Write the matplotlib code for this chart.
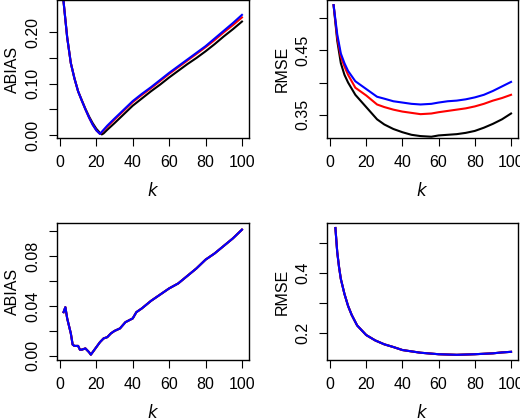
import matplotlib
matplotlib.use('Agg')
import matplotlib.pyplot as plt
import numpy as np

plt.rcParams['font.family'] = ['Liberation Sans', 'DejaVu Sans']

# top-left ABIAS
k_tl = [2, 4, 6, 8, 10, 12, 14, 16, 18, 20, 22, 23, 24, 26, 30, 35, 40, 45, 50, 55, 60, 65, 70, 75, 80, 85, 90, 95, 100]
abias_black = [0.26, 0.19, 0.14, 0.11, 0.085, 0.068, 0.051, 0.036, 0.023, 0.012, 0.004, 0.001, 0.003, 0.010, 0.023, 0.040, 0.057, 0.071, 0.085, 0.098, 0.112, 0.125, 0.138, 0.150, 0.163, 0.177, 0.192, 0.206, 0.221]
abias_red = [0.26, 0.19, 0.14, 0.11, 0.085, 0.067, 0.050, 0.034, 0.020, 0.009, 0.002, 0.005, 0.009, 0.016, 0.030, 0.047, 0.064, 0.078, 0.091, 0.105, 0.119, 0.132, 0.145, 0.158, 0.171, 0.185, 0.200, 0.214, 0.229]
abias_blue = [0.26, 0.19, 0.14, 0.11, 0.085, 0.067, 0.050, 0.034, 0.020, 0.009, 0.002, 0.006, 0.010, 0.018, 0.032, 0.049, 0.066, 0.080, 0.093, 0.107, 0.121, 0.134, 0.147, 0.160, 0.173, 0.188, 0.203, 0.218, 0.234]

# top-right RMSE
k_tr = [2, 4, 6, 8, 10, 14, 20, 26, 30, 35, 40, 45, 50, 56, 60, 65, 70, 75, 80, 85, 90, 95, 100]
rmse_black = [0.52, 0.465, 0.43, 0.412, 0.400, 0.381, 0.362, 0.343, 0.335, 0.328, 0.323, 0.319, 0.317, 0.316, 0.318, 0.319, 0.320, 0.322, 0.325, 0.330, 0.336, 0.343, 0.352]
rmse_red = [0.52, 0.47, 0.44, 0.425, 0.412, 0.392, 0.380, 0.366, 0.362, 0.358, 0.355, 0.353, 0.351, 0.352, 0.354, 0.356, 0.358, 0.360, 0.363, 0.367, 0.372, 0.376, 0.381]
rmse_blue = [0.52, 0.475, 0.445, 0.43, 0.418, 0.402, 0.390, 0.378, 0.375, 0.371, 0.369, 0.367, 0.366, 0.367, 0.369, 0.371, 0.372, 0.374, 0.377, 0.381, 0.387, 0.394, 0.401]

# bottom-left ABIAS
k_bl = [2, 3, 4, 6, 7, 8, 10, 11, 12, 14, 16, 17, 18, 20, 22, 24, 26, 28, 30, 33, 36, 40, 42, 45, 50, 55, 60, 65, 70, 75, 80, 85, 90, 95, 100]
abias2 = [0.035, 0.039, 0.030, 0.018, 0.009, 0.008, 0.008, 0.005, 0.005, 0.006, 0.003, 0.001, 0.003, 0.007, 0.011, 0.014, 0.015, 0.018, 0.020, 0.022, 0.027, 0.030, 0.035, 0.038, 0.044, 0.049, 0.054, 0.058, 0.064, 0.070, 0.077, 0.082, 0.088, 0.094, 0.101]

# bottom-right RMSE
k_br = [3, 4, 5, 6, 8, 10, 12, 15, 20, 25, 30, 35, 40, 50, 60, 70, 80, 90, 95, 100]
rmse2 = [0.55, 0.47, 0.42, 0.38, 0.33, 0.29, 0.26, 0.225, 0.193, 0.175, 0.162, 0.153, 0.143, 0.134, 0.129, 0.127, 0.129, 0.132, 0.135, 0.137]

fig = plt.figure(figsize=(5.2, 4.19), dpi=100)
ax1 = fig.add_axes([0.1096, 0.6706, 0.369, 0.3294])
ax2 = fig.add_axes([0.629, 0.6706, 0.367, 0.3294])
ax3 = fig.add_axes([0.1096, 0.141, 0.369, 0.327])
ax4 = fig.add_axes([0.629, 0.141, 0.367, 0.327])

def style(ax, ylabel, ylim, yticks, ylabels):
    ax.set_xlim(-1.6, 103.8)
    ax.set_ylim(*ylim)
    ax.set_xticks([0, 20, 40, 60, 80, 100])
    ax.set_yticks(yticks)
    ax.set_yticklabels(ylabels, rotation=90, va='center')
    ax.tick_params(direction='out', length=6, labelsize=11.5, pad=6)
    ax.set_xlabel('$k$', fontsize=12, labelpad=8)
    ax.set_ylabel(ylabel, fontsize=11.5, labelpad=4)
    for s in ax.spines.values():
        s.set_linewidth(1.0)

ax1.plot(k_tl, abias_black, color='black', lw=1.5)
ax1.plot(k_tl, abias_red, color='red', lw=1.5)
ax1.plot(k_tl, abias_blue, color='blue', lw=1.5)
style(ax1, 'ABIAS', (-0.006, 0.263), [0, 0.05, 0.10, 0.15, 0.20], ['0.00', '', '0.10', '', '0.20'])

ax2.plot(k_tr, rmse_black, color='black', lw=1.5)
ax2.plot(k_tr, rmse_red, color='red', lw=1.5)
ax2.plot(k_tr, rmse_blue, color='blue', lw=1.5)
style(ax2, 'RMSE', (0.314, 0.528), [0.35, 0.40, 0.45, 0.50], ['0.35', '', '0.45', ''])

ax3.plot(k_bl, abias2, color='black', lw=1.5)
ax3.plot(k_bl, abias2, color='red', lw=1.5)
ax3.plot(k_bl, abias2, color='blue', lw=1.5)
style(ax3, 'ABIAS', (-0.0032, 0.1064), [0, 0.02, 0.04, 0.06, 0.08, 0.10], ['0.00', '', '0.04', '', '0.08', ''])

ax4.plot(k_br, rmse2, color='black', lw=1.5)
ax4.plot(k_br, rmse2, color='red', lw=1.5)
ax4.plot(k_br, rmse2, color='blue', lw=1.5)
style(ax4, 'RMSE', (0.11, 0.567), [0.2, 0.3, 0.4, 0.5], ['0.2', '', '0.4', ''])

fig.savefig('out.png', dpi=100)
